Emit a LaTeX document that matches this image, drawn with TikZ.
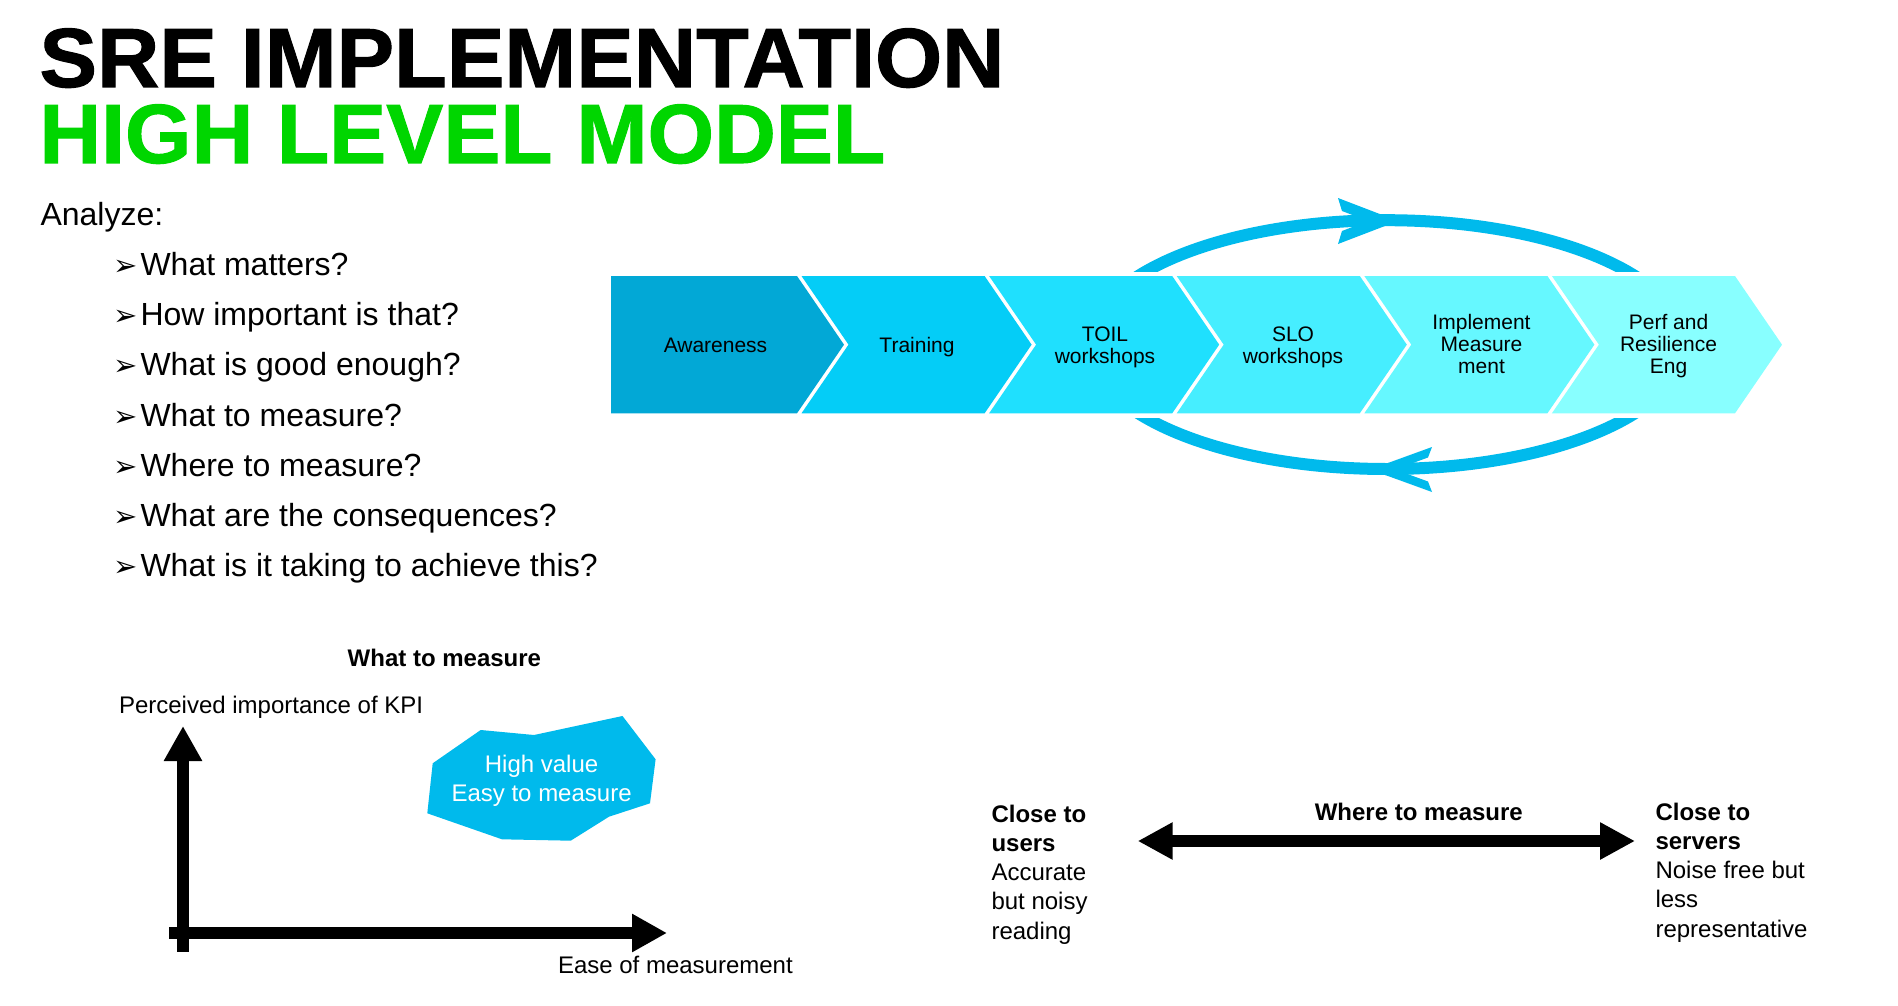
\documentclass[tikz,border=0pt]{standalone}
\usepackage{fontspec}
\setmainfont{Liberation Sans}
\newfontfamily\dejavu{DejaVu Sans}
\newfontfamily\titlefont{Liberation Sans}[FakeStretch=1.027, FakeBold=1.2]
\newfontfamily\titlefontb{Liberation Sans}[FakeStretch=1.018, FakeBold=1.2]
\usetikzlibrary{arrows.meta}
\definecolor{titlegreen}{RGB}{0,214,0}
\definecolor{loopblue}{RGB}{0,186,236}
\definecolor{chA}{RGB}{2,168,214}
\definecolor{chB}{RGB}{4,205,247}
\definecolor{chC}{RGB}{31,224,254}
\definecolor{chD}{RGB}{70,238,255}
\definecolor{chE}{RGB}{102,248,255}
\definecolor{chF}{RGB}{136,255,255}
\newcommand\mlc[1]{\begin{tabular}[t]{@{}c@{}}#1\end{tabular}}
\newcommand\mll[1]{\begin{tabular}[t]{@{}l@{}}#1\end{tabular}}
\newcommand\bul{\makebox[27.5pt][l]{\dejavu\fontsize{29}{29}\selectfont ➢}}
\begin{document}
\begin{tikzpicture}[x=1pt,y=-1pt,
  txt/.style={inner sep=0pt, outer sep=0pt, anchor=base west},
  titletxt/.style={txt, font=\titlefont\fontsize{84}{84}\selectfont\bfseries},
  chlabel/.style={inner sep=0pt, anchor=base, font=\fontsize{21}{22.3}\selectfont},
  lbl/.style={txt, font=\fontsize{24}{29.3}\selectfont},
  boldlbl/.style={inner sep=0pt, anchor=base, font=\fontsize{24}{27}\selectfont\bfseries},
  loopline/.style={draw=loopblue, line width=12pt},
  barbhead/.style={fill=loopblue},
  bigarrow/.style={line width=11.7pt, -{Triangle[length=35pt,width=36pt]}},
  dblarrow/.style={line width=11.7pt, {Triangle[length=35pt,width=35pt]}-{Triangle[length=35pt,width=35pt]}}
]
\useasboundingbox (0,0) rectangle (1898,1006);
\fill[white] (0,0) rectangle (1898,1006);

% title
\node[titletxt] (t1) at (39.5,87) {SRE IMPLEMENTATION};
\node[titletxt, font=\titlefontb\fontsize{84}{84}\selectfont\bfseries, text=titlegreen] (t2) at (39.5,163) {HIGH LEVEL MODEL};

% analyze list
\node[txt, font=\fontsize{32}{50.2}\selectfont] (analyze) at (40.5,225.7) {Analyze:};
\node[txt, font=\fontsize{32}{50.2}\selectfont] (qlist) at (113,275.5) {\mll{%
\bul What matters?\\
\bul How important is that?\\
\bul What is good enough?\\
\bul What to measure?\\
\bul Where to measure?\\
\bul What are the consequences?\\
\bul What is it taking to achieve this?}};

% loop behind the chevrons
\coordinate (loopc) at (1386.6,344.6);
\draw[loopline] (loopc) ellipse [x radius=297.6pt, y radius=124.4pt];
\fill[white] (1060,271.7) rectangle (1720,418.3);
% top arrowhead (pointing right)
\fill[barbhead] (1338,198) -- (1398,221) -- (1338,244) -- (1342,231) -- (1368,221) -- (1342,211) -- cycle;
% bottom arrowhead (pointing left)
\fill[barbhead] (1432,447) -- (1370,469.5) -- (1432,492) -- (1428,481.5) -- (1395,469.5) -- (1428,457.5) -- cycle;

% chevrons
\def\ctop{276}\def\cbot{413.3}\def\cmid{344.65}
\fill[chA] (611,\ctop) -- (797,\ctop) -- (844,\cmid) -- (797,\cbot) -- (611,\cbot) -- cycle;
\foreach \i/\col in {2/chB,3/chC,4/chD,5/chE,6/chF}{
  \pgfmathsetmacro\cl{797+(\i-2)*187.6+4.5}
  \pgfmathsetmacro\cr{797+(\i-1)*187.6}
  \pgfmathsetmacro\tl{\cl+47}
  \pgfmathsetmacro\tr{\cr+47}
  \fill[\col] (\cl,\ctop) -- (\cr,\ctop) -- (\tr,\cmid) -- (\cr,\cbot) -- (\cl,\cbot) -- (\tl,\cmid) -- cycle;
}
\node[chlabel] (c1) at (715.5,352) {Awareness};
\node[chlabel] (c2) at (917,352) {Training};
\node[chlabel] (c3) at (1105,341) {\mlc{TOIL\\workshops}};
\node[chlabel] (c4) at (1293,341) {\mlc{SLO\\workshops}};
\node[chlabel] (c5) at (1481.5,329) {\mlc{Implement\\Measure\\ment}};
\node[chlabel] (c6) at (1668.5,329) {\mlc{Perf and\\Resilience\\Eng}};

% what to measure chart
\node[boldlbl] (wtm) at (444.4,666.7) {What to measure};
\node[lbl] (ylab) at (119,713.3) {Perceived importance of KPI};
\node[lbl] (xlab) at (558,973.3) {Ease of measurement};
\coordinate (ybot) at (183,951.7);
\coordinate (ytop) at (183,726);
\coordinate (xleft) at (169,933);
\coordinate (xright) at (667,933);
\draw[bigarrow] (ybot) -- (ytop);
\draw[bigarrow] (xleft) -- (xright);
\fill[loopblue] (480.7,730) -- (534,735) -- (622.5,716) -- (655.6,759.3) -- (650,803.3) -- (609,816.7) -- (570.7,840.7) -- (502,839.3) -- (427.3,813.3) -- (432.7,763.3) -- cycle;
\node[inner sep=0pt, anchor=base, text=white, font=\fontsize{24}{29}\selectfont] (hv) at (541.6,772.7) {\mlc{High value\\Easy to measure}};

% where to measure
\node[boldlbl] (wherem) at (1418.8,820) {Where to measure};
\coordinate (dl) at (1137.7,841);
\coordinate (dr) at (1635,841);
\draw[dblarrow] (dl) -- (dr);
\node[lbl] (users) at (991.5,822) {\mll{\textbf{Close to}\\\textbf{users}\\Accurate\\but noisy\\reading}};
\node[lbl] (servers) at (1655.5,820) {\mll{\textbf{Close to}\\\textbf{servers}\\Noise free but\\less\\representative}};
\end{tikzpicture}
\end{document}
